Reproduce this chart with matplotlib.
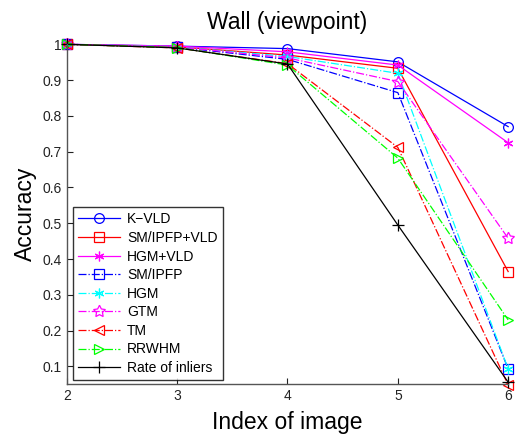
import matplotlib
matplotlib.use("Agg")
import matplotlib.pyplot as plt

plt.rcParams['font.family'] = ['Liberation Sans', 'DejaVu Sans']

image_index = [2, 3, 4, 5, 6]

k_vld = [1.0, 0.995, 0.988, 0.951, 0.770]
sm_ipfp_vld = [1.0, 0.993, 0.970, 0.933, 0.365]
hgm_vld = [1.0, 0.995, 0.979, 0.942, 0.725]
sm_ipfp = [1.0, 0.992, 0.958, 0.865, 0.093]
hgm = [1.0, 0.993, 0.966, 0.919, 0.093]
gtm = [1.0, 0.993, 0.962, 0.896, 0.458]
tm = [1.0, 0.990, 0.946, 0.712, 0.048]
rrwhm = [1.0, 0.991, 0.942, 0.682, 0.230]
inliers = [1.0, 0.990, 0.945, 0.495, 0.056]

asterisk = (6, 2, 0)
pentagram = (5, 1, 0)

series = [
    ("K\u2212VLD", k_vld, '#0000ff', '-', 'o', 7),
    ("SM/IPFP+VLD", sm_ipfp_vld, '#ff0000', '-', 's', 7),
    ("HGM+VLD", hgm_vld, '#ff00ff', '-', asterisk, 7),
    ("SM/IPFP", sm_ipfp, '#0000ff', '-.', 's', 7),
    ("HGM", hgm, '#00ffff', '-.', asterisk, 7),
    ("GTM", gtm, '#ff00ff', '-.', pentagram, 9),
    ("TM", tm, '#ff0000', '-.', '<', 7),
    ("RRWHM", rrwhm, '#00ff00', '-.', '>', 7),
    ("Rate of inliers", inliers, '#000000', '-', '+', 8),
]

fig = plt.figure(figsize=(5.18, 4.37), dpi=100)
ax = fig.add_axes([0.129, 0.1206, 0.852, 0.778])

for label, vals, color, ls, marker, ms in series:
    ax.plot(image_index, vals, color=color, linestyle=ls, linewidth=0.9,
            marker=marker, markersize=ms, markeredgewidth=0.9,
            markerfacecolor='none', clip_on=False, label=label)

ax.set_xlim(2, 6)
ax.set_ylim(0.05, 1.0)
ax.set_xticks([2, 3, 4, 5, 6])
ax.set_yticks([0.1, 0.2, 0.3, 0.4, 0.5, 0.6, 0.7, 0.8, 0.9, 1.0])
ax.set_yticklabels(['0.1', '0.2', '0.3', '0.4', '0.5', '0.6', '0.7', '0.8', '0.9', '1'])
ax.tick_params(direction='in', length=4, width=0.8, labelsize=10, colors='#222222')
for side in ('top', 'right'):
    ax.spines[side].set_visible(False)
for side in ('left', 'bottom'):
    ax.spines[side].set_color('#555555')
    ax.spines[side].set_linewidth(1.0)

ax.set_title("Wall (viewpoint)", fontsize=16.5, pad=11)
ax.set_xlabel("Index of image", fontsize=16.5, labelpad=6)
ax.set_ylabel("Accuracy", fontsize=16.5, labelpad=4)

leg = ax.legend(loc='lower left', bbox_to_anchor=(0.014, 0.013), borderaxespad=0,
                fontsize=10, frameon=True, fancybox=False, handlelength=3.0,
                handletextpad=0.55, labelspacing=0.33, borderpad=0.35)
leg.get_frame().set_edgecolor('black')
leg.get_frame().set_linewidth(1.0)

fig.savefig("out.png", dpi=100)
